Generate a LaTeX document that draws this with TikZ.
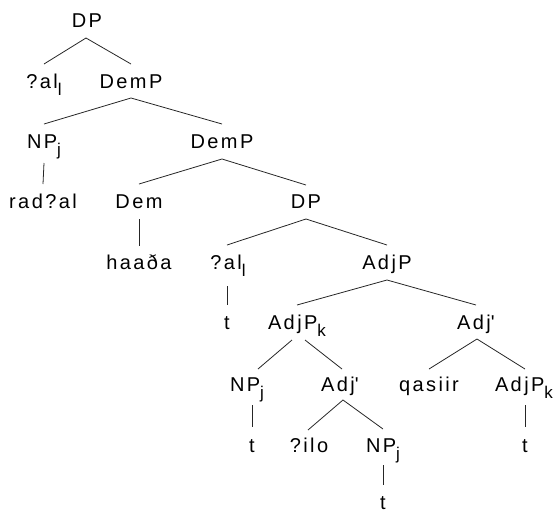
\documentclass[tikz,border=0pt]{standalone}
\usepackage{fontspec}
\setmainfont{Liberation Sans}[LetterSpace=12]
\newcommand\sbs[1]{\raisebox{-7pt}{\fontsize{17}{17}\selectfont #1}}
\newcommand\apo{\textquotesingle}
\tikzset{
  lab/.style={anchor=base, inner sep=0pt, font=\fontsize{20}{20}\selectfont},
  br/.style={draw=black!85, line width=0.8pt},
}
\begin{document}
\begin{tikzpicture}[x=1pt,y=-1pt]
\useasboundingbox (0,0) rectangle (558,512);
% rows: baselines = centre + 7
\node[lab] (DP) at (87,27) {DP};
\node[lab] (al1) at (44,88) {?al\sbs{l}};
\node[lab] (DemP1) at (131,88) {DemP};
\node[lab] (NPj1) at (44,148) {NP\sbs{j}};
\node[lab] (DemP2) at (222,148) {DemP};
\node[lab] (radal) at (43,208) {rad?al};
\node[lab] (Dem) at (139,208) {Dem};
\node[lab] (DP3) at (306,208) {DP};
\node[lab] (haada) at (139,269) {haaða};
\node[lab] (al2) at (228,269) {?al\sbs{l}};
\node[lab] (AdjP) at (387,269) {AdjP};
\node[lab] (t1) at (227,329) {t};
\node[lab] (AdjPk1) at (297,329) {AdjP\sbs{k}};
\node[lab] (Adj1) at (476,329) {Adj\apo};
\node[lab] (NPj2) at (247,391) {NP\sbs{j}};
\node[lab] (Adj2) at (340,391) {Adj\apo};
\node[lab] (qasiir) at (429,391) {qasiir};
\node[lab] (AdjPk2) at (524,391) {AdjP\sbs{k}};
\node[lab] (t2) at (252,452) {t};
\node[lab] (ilo) at (309,452) {?ilo};
\node[lab] (NPj3) at (383,452) {NP\sbs{j}};
\node[lab] (t3) at (525,452) {t};
\node[lab] (t4) at (383,509) {t};
% branches
\draw[br] ([yshift=24pt]al1.base) -- ([xshift=-1pt,yshift=-11pt]DP.base) -- ([yshift=24pt]DemP1.base);
\draw[br] ([yshift=24pt]NPj1.base) -- ([yshift=-10pt]DemP1.base) -- ([yshift=24pt]DemP2.base);
\draw[br] ([yshift=-15pt]NPj1.base) -- ([yshift=24pt]radal.base);
\draw[br] ([yshift=24pt]Dem.base) -- ([yshift=-11pt]DemP2.base) -- ([yshift=23pt]DP3.base);
\draw[br] ([yshift=-11pt]Dem.base) -- ([yshift=23pt]haada.base);
\draw[br] ([xshift=-1pt,yshift=24pt]al2.base) -- ([yshift=-11pt]DP3.base) -- ([yshift=24pt]AdjP.base);
\draw[br] ([xshift=-1pt,yshift=-17pt]al2.base) -- ([yshift=24pt]t1.base);
\draw[br] ([yshift=24pt]AdjPk1.base) -- ([yshift=-11pt]AdjP.base) -- ([yshift=24pt]Adj1.base);
\draw[br] ([xshift=-5pt,yshift=-11pt]AdjPk1.base) -- ([xshift=11pt,yshift=22pt]NPj2.base);
\draw[br] ([xshift=8pt,yshift=-11pt]AdjPk1.base) -- ([xshift=2pt,yshift=22pt]Adj2.base);
\draw[br] ([yshift=22pt]qasiir.base) -- ([xshift=1pt,yshift=-10pt]Adj1.base) -- ([xshift=1pt,yshift=22pt]AdjPk2.base);
\draw[br] ([xshift=5pt,yshift=-14pt]NPj2.base) -- ([yshift=25pt]t2.base);
\draw[br] ([xshift=1pt,yshift=-14pt]AdjPk2.base) -- ([yshift=25pt]t3.base);
\draw[br] ([xshift=-1pt,yshift=22pt]ilo.base) -- ([xshift=3pt,yshift=-9pt]Adj2.base) -- ([yshift=23pt]NPj3.base);
\draw[br] ([yshift=-13pt]NPj3.base) -- ([yshift=24pt]t4.base);
\end{tikzpicture}
\end{document}
